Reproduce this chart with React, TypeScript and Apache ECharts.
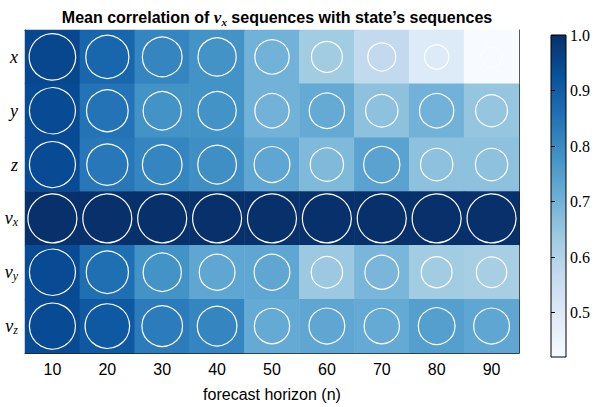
import React, { useEffect, useRef } from "react";
import * as echarts from "echarts";

const horizons = ["10", "20", "30", "40", "50", "60", "70", "80", "90"];
const states = ["x", "y", "z", "v_x", "v_y", "v_z"];
const rowX = [0.95, 0.88, 0.81, 0.78, 0.70, 0.63, 0.57, 0.495, 0.42];
const rowY = [0.94, 0.85, 0.78, 0.78, 0.70, 0.72, 0.66, 0.70, 0.65];
const rowZ = [0.94, 0.84, 0.81, 0.79, 0.73, 0.68, 0.74, 0.66, 0.66];
const rowVx = [1.0, 1.0, 1.0, 1.0, 1.0, 1.0, 1.0, 1.0, 1.0];
const rowVy = [0.94, 0.86, 0.78, 0.73, 0.73, 0.64, 0.69, 0.63, 0.62];
const rowVz = [0.94, 0.91, 0.83, 0.81, 0.72, 0.73, 0.72, 0.75, 0.73];
const rows = [rowX, rowY, rowZ, rowVx, rowVy, rowVz];
const cbTicks = [0.5, 0.6, 0.7, 0.8, 0.9, 1.0];
const vMin = 0.42;
const vMax = 1.0;

const blues = ["#f7fbff", "#deebf7", "#c6dbef", "#9ecae1", "#6baed6", "#4292c6", "#2171b5", "#08519c", "#08306b"];

export default function App() {
  const ref = useRef<HTMLDivElement>(null);
  useEffect(() => {
    const chart = echarts.init(ref.current!, null, { renderer: "svg" });
    const data: number[][] = [];
    rows.forEach((r, yi) => r.forEach((v, xi) => data.push([xi, yi, v])));
    const serif = "Liberation Serif";
    const sans = "Liberation Sans";
    const yLabelRich = {
      i: { fontFamily: serif, fontStyle: "italic", fontSize: 18, color: "#000" },
      s: { fontFamily: serif, fontStyle: "italic", fontSize: 12, color: "#000", verticalAlign: "bottom", padding: [8, 0, 0, 0] },
    };
    chart.setOption({
      animation: false,
      title: {
        text: "Mean correlation of {i|v}{s|x} sequences with state\u2019s sequences",
        left: 272,
        textAlign: "center",
        top: 3,
        textStyle: {
          fontFamily: sans,
          fontWeight: "bold",
          fontSize: 16,
          color: "#000",
          rich: {
            i: { fontFamily: serif, fontStyle: "italic", fontSize: 17, color: "#000" },
            s: { fontFamily: serif, fontStyle: "italic", fontSize: 11, color: "#000", padding: [8, 0, 0, 0] },
          },
        },
      },
      grid: [
        { left: 25, right: 79, top: 30, bottom: 46 },
        {
          left: 551, width: 15, top: 35, bottom: 50, show: true,
          borderColor: "#000", borderWidth: 1,
          backgroundColor: new echarts.graphic.LinearGradient(0, 1, 0, 0,
            blues.map((c, i) => ({ offset: i / (blues.length - 1), color: c }))),
        },
      ],
      xAxis: [
        {
          type: "category", data: horizons, gridIndex: 0,
          axisTick: { alignWithLabel: true, length: 4, lineStyle: { color: "#000" } },
          axisLine: { lineStyle: { color: "#222" } },
          axisLabel: { fontFamily: sans, fontSize: 16, color: "#000", margin: 8 },
          name: "forecast horizon (n)", nameLocation: "middle", nameGap: 33,
          nameTextStyle: { fontFamily: sans, fontSize: 16, color: "#000" },
          splitLine: { show: false },
        },
        {
          type: "category", data: horizons, gridIndex: 0, position: "top",
          axisTick: { show: false }, axisLabel: { show: false },
          axisLine: { lineStyle: { color: "#222" } },
        },
        {
          type: "value", gridIndex: 1, show: false, min: 0, max: 1,
        },
      ],
      yAxis: [
        {
          type: "category", data: states, inverse: true, gridIndex: 0,
          axisTick: { alignWithLabel: true, length: 4, lineStyle: { color: "#000" } },
          axisLine: { lineStyle: { color: "#222" } },
          axisLabel: {
            margin: 7,
            formatter: (v: string) => {
              const p = v.split("_");
              return p.length > 1 ? `{i|${p[0]}}{s|${p[1]}}` : `{i|${p[0]}}`;
            },
            rich: yLabelRich,
          },
        },
        {
          type: "category", data: states, inverse: true, gridIndex: 0, position: "right",
          axisTick: { show: false }, axisLabel: { show: false },
          axisLine: { lineStyle: { color: "#222" } },
        },
        {
          type: "value", gridIndex: 1, min: vMin, max: vMax, position: "right",
          axisLine: { show: false },
          splitLine: { show: false },
          axisTick: { show: true, length: 4, customValues: cbTicks, lineStyle: { color: "#000" } },
          axisLabel: {
            customValues: cbTicks, fontFamily: serif, fontSize: 16, color: "#000", margin: 4,
            formatter: (v: number) => v.toFixed(1),
          },
        },
      ],
      visualMap: {
        show: false, type: "continuous", min: vMin, max: vMax, seriesIndex: 0, dimension: 2,
        inRange: { color: blues },
      },
      series: [
        {
          type: "heatmap", xAxisIndex: 0, yAxisIndex: 0, data,
          itemStyle: { borderWidth: 0 },
        },
        {
          type: "scatter", xAxisIndex: 0, yAxisIndex: 0, data,
          symbol: "circle",
          symbolSize: (val: number[]) => val[2] * 49,
          itemStyle: { color: "rgba(0,0,0,0)", borderColor: "#fff", borderWidth: 1.2, opacity: 1 },
          z: 3,
          silent: true,
        },
      ],
    });
    return () => chart.dispose();
  }, []);
  return <div ref={ref} style={{ width: 598, height: 407, position: "absolute", left: 0, top: 0 }} />;
}
